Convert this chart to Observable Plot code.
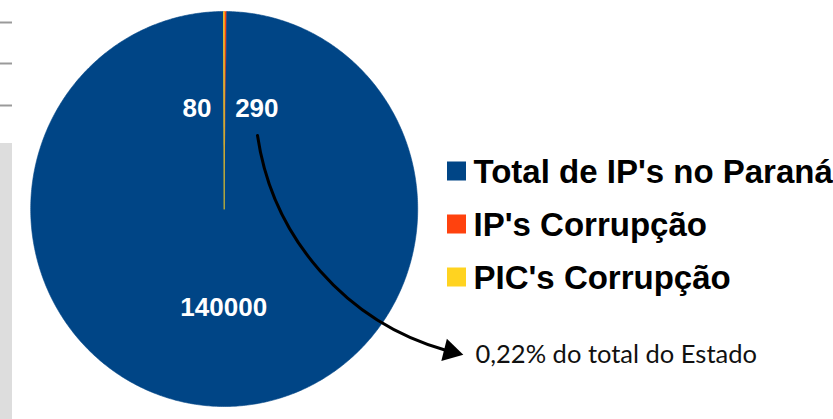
<!DOCTYPE html>
<html>
<head>
<meta charset="utf-8">
<script src="https://cdn.jsdelivr.net/npm/d3@7"></script>
<script src="https://cdn.jsdelivr.net/npm/@observablehq/plot@0.6"></script>
<style>
  html, body { margin: 0; padding: 0; background: #fff; }
  #chart svg { display: block; }
</style>
</head>
<body>
<div id="chart"></div>
<script>
// ---- data ----
const categories = ["Total de IP's no Paraná", "IP's Corrupção", "PIC's Corrupção"];
const values = [140000, 290, 80];
const colors = ["#004586", "#ff420e", "#ffd320"];
const pieOrder = [1, 0, 2]; // clockwise from 12 o'clock
const labelOffsets = [0, 32, -27]; // horizontal nudge of value labels
const annotationText = "0,22% do total do Estado";

// ---- layout ----
const W = 833, H = 419;
const cx = 223.7, cy = 208.5, rx = 193.5, ry = 197.5;

const rows = pieOrder.map(i => ({cat: categories[i], value: values[i], i}));
const arcs = d3.pie().sort(null).value(d => d.value)(rows);

const polys = [];
const labels = [];
for (const a of arcs) {
  const n = Math.max(2, Math.ceil((a.endAngle - a.startAngle) / 0.01));
  polys.push({cat: a.data.cat, x: cx, y: cy});
  for (let k = 0; k <= n; k++) {
    const t = a.startAngle + (a.endAngle - a.startAngle) * k / n;
    polys.push({cat: a.data.cat, x: cx + rx * Math.sin(t), y: cy - ry * Math.cos(t)});
  }
  polys.push({cat: a.data.cat, x: cx, y: cy});
  const mid = (a.startAngle + a.endAngle) / 2;
  const big = a.data.i === 0;
  const rr = big ? 0.5 : 0.51;
  labels.push({
    text: String(a.data.value),
    x: cx + rx * rr * Math.sin(mid) + labelOffsets[a.data.i],
    y: cy - ry * rr * Math.cos(mid)
  });
}

const legend = categories.map((c, i) => ({cat: c, y: 171 + i * 53}));
const decoLines = [22, 63, 105];

const plot = Plot.plot({
  width: W, height: H,
  margin: 0,
  x: {domain: [0, W], range: [0, W], axis: null},
  y: {domain: [0, H], range: [0, H], axis: null},
  color: {domain: categories, range: colors},
  style: {fontFamily: "'Liberation Sans', Arial, sans-serif"},
  marks: [
    // page fragments on the left
    Plot.ruleY(decoLines, {y: d => d, x1: 0, x2: 12, stroke: "#9a9a9a", strokeWidth: 2}),
    Plot.rect([0], {x1: 0, x2: 12, y1: 143, y2: H, fill: "#dddddd"}),
    // pie slices
    Plot.line(polys, {x: "x", y: "y", z: "cat", fill: "cat", stroke: "cat", strokeWidth: 0.6, curve: "linear"}),
    // value labels
    Plot.text(labels, {x: "x", y: "y", text: "text", fill: "white", fontSize: 26, fontWeight: "bold"}),
    // legend
    Plot.rect(legend, {x1: 447, x2: 466, y1: d => d.y - 9.5, y2: d => d.y + 9.5, fill: "cat"}),
    Plot.text(legend, {x: 473, y: d => d.y + 1, text: "cat", textAnchor: "start", fontSize: 33, fontWeight: "bold", fill: "#000"}),
    // annotation arrow
    Plot.arrow([{x1: 257, y1: 135, x2: 446, y2: 350}], {x1: "x1", y1: "y1", x2: "x2", y2: "y2", bend: -33, stroke: "#000", strokeWidth: 3, headLength: 0}),
    Plot.dot([{x: 450, y: 351}], {x: "x", y: "y", symbol: "triangle", r: 8.5, rotate: 104, fill: "#000"}),
    Plot.text([annotationText], {x: 475, y: 354, text: d => d, textAnchor: "start", fontSize: 25.5, fontFamily: "Lato, 'Open Sans', sans-serif", fill: "#111"})
  ]
});
document.getElementById("chart").append(plot);
</script>
</body>
</html>
